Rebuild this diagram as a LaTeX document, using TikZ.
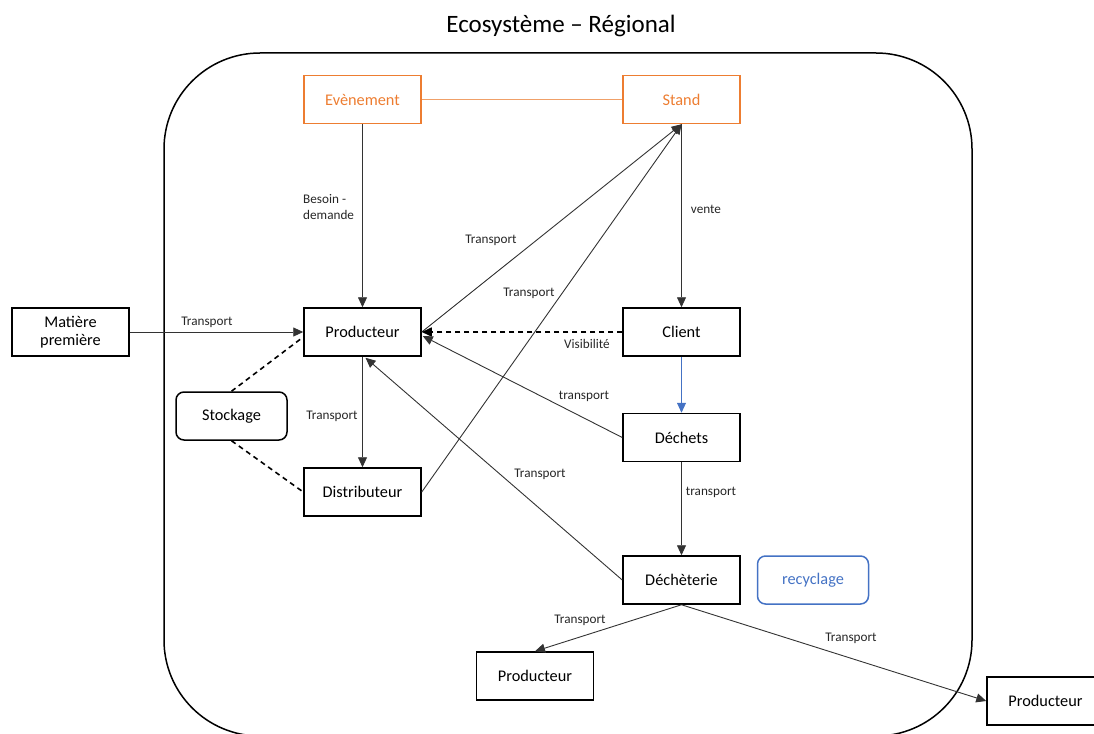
\documentclass[tikz,border=0pt]{standalone}
\usepackage{fontspec}
\setmainfont{Carlito}
\usetikzlibrary{arrows.meta,calc}
\definecolor{accorange}{HTML}{ED7D31}
\definecolor{lightorange}{HTML}{F0A068}
\definecolor{accblue}{HTML}{4472C4}
\definecolor{linegray}{HTML}{333333}
\begin{document}
\begin{tikzpicture}[x=1pt,y=-1pt,
  box/.style={draw=black,line width=1.5pt,minimum width=117pt,minimum height=48pt,
    inner sep=0pt,font=\fontsize{16.3}{18.5}\selectfont,align=center},
  obox/.style={box,draw=accorange,text=accorange},
  rbox/.style={box,rounded corners=8pt,minimum width=111pt},
  bbox/.style={rbox,draw=accblue,text=accblue},
  lbl/.style={inner sep=0pt,font=\fontsize{13.2}{15.5}\selectfont,text=black!85},
  conn/.style={draw=linegray,line width=0.9pt,-{Triangle[length=10pt,width=9pt]}},
  dashline/.style={draw=black,line width=1.6pt,dash pattern=on 5pt off 4pt}
]
\useasboundingbox (0,0) rectangle (1094,733);
\clip (0,0) rectangle (1094,733);

% title and frame of the regional ecosystem
\node (title) at (561,26) {\fontsize{25}{28}\selectfont Ecosystème – Régional};
\draw[line width=1.5pt,rounded corners=96pt] (164,53) rectangle (972,736);

% boxes
\node[obox] (evt) at (362.5,99.5) {Evènement};
\node[obox] (stand) at (681.5,99.5) {Stand};
\node[box] (mat) at (70.5,332) {Matière\\première};
\node[box] (prod) at (362.5,332) {Producteur};
\node[box] (client) at (681.5,332) {Client};
\node[rbox] (stock) at (231.5,416) {Stockage};
\node[box] (dist) at (362.5,492) {Distributeur};
\node[box] (dechets) at (681.5,437.5) {Déchets};
\node[box] (decheterie) at (681.5,580) {Déchèterie};
\node[bbox] (recy) at (813,580) {recyclage};
\node[box] (prodb) at (535,676) {Producteur};
\node[box] (prodr) at (1045.5,701) {Producteur};

% connectors
\draw[draw=lightorange,line width=1pt] (evt) -- (stand);
\draw[conn] (evt) -- (prod);
\draw[conn] (stand) -- (client);
\draw[conn] (prod.east) -- (stand.south);
\draw[conn] (dist.east) -- (stand.south);
\draw[dashline,-{Triangle[length=10pt,width=9pt]}] (client.west) -- (prod.east);
\draw[draw=accblue,line width=0.9pt,-{Triangle[length=10pt,width=9pt]}] (client) -- (dechets);
\draw[conn] (dechets.west) -- ($(prod.east)+(1,4)$);
\draw[conn] (decheterie.west) -- ($(prod.south)+(3,1)$);
\draw[conn] (dechets) -- (decheterie);
\draw[conn] (prod) -- (dist);
\draw[conn] (mat) -- (prod);
\draw[dashline] (stock.north) -- ($(prod.west)+(0,5)$);
\draw[dashline] (stock.south) -- (dist.west);
\draw[conn] (decheterie.south) -- (prodb.north);
\draw[conn] (decheterie.south) -- (prodr.west);

% connector labels
\node[lbl,anchor=west,align=left] (lbesoin) at (303,207) {Besoin -\\demande};
\node[lbl] (lvente) at (706,209) {vente};
\node[lbl] (lt1) at (491,240) {Transport};
\node[lbl] (lt2) at (529,293) {Transport};
\node[lbl] (lt3) at (207,322) {Transport};
\node[lbl] (lvis) at (587,344) {Visibilité};
\node[lbl] (lt4) at (584,396) {transport};
\node[lbl] (lt5) at (332,416) {Transport};
\node[lbl] (lt6) at (540,474) {Transport};
\node[lbl] (lt7) at (711,492) {transport};
\node[lbl] (lt8) at (580,620) {Transport};
\node[lbl] (lt9) at (851,638) {Transport};
\end{tikzpicture}
\end{document}
